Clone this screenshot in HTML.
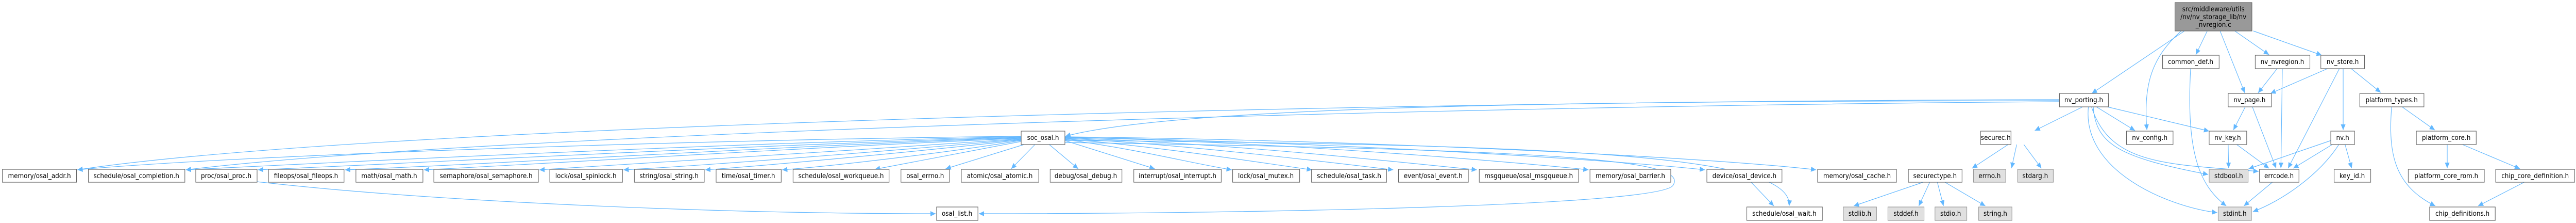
<!DOCTYPE html>
<html><head><meta charset="utf-8"><style>
html,body{margin:0;padding:0;background:#fff;width:100%;height:100%;overflow:hidden;}
svg{display:block;position:absolute;left:0;top:0;width:100vw;height:100vh;}
text{font-family:"DejaVu Sans","Liberation Sans",sans-serif;font-size:13px;fill:#000;text-anchor:middle;}
.n{fill:#fff;stroke:#666;stroke-width:1.2;}
.g{fill:#e0e0e0;stroke:#999;stroke-width:1.2;}
.r{fill:#999;stroke:#666;stroke-width:1.2;}
path.e{fill:none;stroke:#63b8ff;stroke-width:1.2;marker-end:url(#a);}
</style></head><body>
<svg viewBox="0 0 5421 432" preserveAspectRatio="none" xmlns="http://www.w3.org/2000/svg">
<defs><marker id="a" markerUnits="userSpaceOnUse" markerWidth="12" markerHeight="10" refX="11" refY="5" orient="auto"><path d="M0,0 L11,5 L0,10 z" fill="#63b8ff"/></marker></defs>

<g>
<path class="e" d="M4597,60 L4402,181"/>
<path class="e" d="M4590,60 C4530,110 4510,160 4518,252"/>
<path class="e" d="M4645,60 L4621,106"/>
<path class="e" d="M4672,60 L4724,180"/>
<path class="e" d="M4703,60 L4775,106"/>
<path class="e" d="M4742,60 L4886,107"/>
<path class="e" d="M4385,206 L4282,253"/>
<path class="e" d="M4410,206 L4493,253"/>
<path class="e" d="M4430,206 L4649,254"/>
<path class="e" d="M4405,206 C4410,280 4460,305 4647,338"/>
<path class="e" d="M4401,206 C4440,320 4560,318 4753,332"/>
<path class="e" d="M4395,206 C4380,330 4560,400 4666,412"/>
<path class="e" d="M4334,195 C3500,196 2500,200 2242,264"/>
<path class="e" d="M4334,193 C3000,195 800,240 163,329"/>
<path class="e" d="M4334,197 C3000,205 1000,260 391,329"/>
<path class="e" d="M4610,133 C4600,300 4630,360 4685,399"/>
<path class="e" d="M4792,133 L4752,180"/>
<path class="e" d="M4803,133 L4800,326"/>
<path class="e" d="M4898,133 L4778,181"/>
<path class="e" d="M4923,133 L4815,326"/>
<path class="e" d="M4931,133 L4931,252"/>
<path class="e" d="M4948,133 L5010,179"/>
<path class="e" d="M4725,207 L4700,252"/>
<path class="e" d="M4740,207 L4790,326"/>
<path class="e" d="M5055,207 L5124,252"/>
<path class="e" d="M5033,207 C5025,300 5040,360 5125,399"/>
<path class="e" d="M4689,280 L4690,326"/>
<path class="e" d="M4707,280 L4775,326"/>
<path class="e" d="M4906,272 L4732,327"/>
<path class="e" d="M4908,280 L4826,326"/>
<path class="e" d="M4935,280 L4949,326"/>
<path class="e" d="M4922,280 C4880,340 4800,390 4741,410"/>
<path class="e" d="M5150,280 L5150,326"/>
<path class="e" d="M5182,280 L5303,327"/>
<path class="e" d="M5312,353 L5215,399"/>
<path class="e" d="M4782,353 L4722,399"/>
<path class="e" d="M4226,280 L4150,326"/>
<path class="e" d="M4244,280 L4233,326"/>
<path class="e" d="M4259,280 L4296,326"/>
<path class="e" d="M4047,353 L3901,399"/>
<path class="e" d="M4061,353 L4038,399"/>
<path class="e" d="M4077,353 L4090,399"/>
<path class="e" d="M4093,353 L4178,399"/>
<path class="e" d="M3685,353 L3733,399"/>
<path class="e" d="M2149,264 C1500,270 500,300 163,329"/>
<path class="e" d="M2149,265 C1600,275 800,310 391,329"/>
<path class="e" d="M2149,266 C1600,280 900,315 543,329"/>
<path class="e" d="M2149,267 C1700,280 1000,320 726,329"/>
<path class="e" d="M2149,268 C1700,285 1100,320 892,329"/>
<path class="e" d="M2149,269 C1800,290 1300,322 1135,329"/>
<path class="e" d="M2149,270 C1900,290 1500,320 1312,329"/>
<path class="e" d="M2149,271 C1950,292 1600,322 1484,329"/>
<path class="e" d="M2149,272 C2000,295 1750,322 1646,329"/>
<path class="e" d="M2149,274 L1841,328"/>
<path class="e" d="M2155,280 L1990,327"/>
<path class="e" d="M2178,280 L2128,327"/>
<path class="e" d="M2208,280 L2269,327"/>
<path class="e" d="M2240,272 L2430,327"/>
<path class="e" d="M2240,270 C2400,290 2500,315 2592,329"/>
<path class="e" d="M2240,269 C2450,285 2650,315 2761,329"/>
<path class="e" d="M2240,268 C2500,280 2800,315 2932,329"/>
<path class="e" d="M2240,267 C2600,278 2950,315 3108,329"/>
<path class="e" d="M2240,266 C2700,275 3200,315 3343,329"/>
<path class="e" d="M2240,266 C2800,275 3400,310 3588,329"/>
<path class="e" d="M2240,265 C2900,272 3600,305 3822,329"/>
<path class="e" d="M2240,272 C3300,280 3775,300 3765,399"/>
<path class="e" d="M2240,276 C3300,290 3560,310 3520,360 C3480,400 2600,414 2060,414"/>
<path class="e" d="M541,352 C900,390 1500,414 1969,414"/>
</g>

<g>
<rect class="r" x="4577" y="5" width="162" height="55"/>
<text x="4658" y="22">src/middleware/utils</text>
<text x="4658" y="37">/nv/nv_storage_lib/nv</text>
<text x="4658" y="52">_nvregion.c</text>

<rect class="n" x="4551" y="107" width="119" height="26"/><text x="4610" y="124">common_def.h</text>
<rect class="n" x="4746" y="107" width="115" height="26"/><text x="4803" y="124">nv_nvregion.h</text>
<rect class="n" x="4884" y="107" width="92" height="26"/><text x="4930" y="124">nv_store.h</text>

<rect class="n" x="4334" y="181" width="103" height="26"/><text x="4385" y="198">nv_porting.h</text>
<rect class="n" x="4689" y="181" width="91" height="26"/><text x="4734" y="198">nv_page.h</text>
<rect class="n" x="4966" y="181" width="135" height="26"/><text x="5033" y="198">platform_types.h</text>

<rect class="n" x="2149" y="254" width="92" height="26"/><text x="2195" y="271">soc_osal.h</text>
<rect class="n" x="4168" y="254" width="64" height="26"/><text x="4200" y="271">securec.h</text>
<rect class="n" x="4475" y="254" width="98" height="26"/><text x="4524" y="271">nv_config.h</text>
<rect class="n" x="4649" y="254" width="79" height="26"/><text x="4688" y="271">nv_key.h</text>
<rect class="n" x="4905" y="254" width="50" height="26"/><text x="4930" y="271">nv.h</text>
<rect class="n" x="5085" y="254" width="126" height="26"/><text x="5148" y="271">platform_core.h</text>

<rect class="n" x="5" y="328" width="156" height="25"/><text x="83" y="345">memory/osal_addr.h</text>
<rect class="n" x="186" y="328" width="203" height="25"/><text x="287" y="345">schedule/osal_completion.h</text>
<rect class="n" x="412" y="328" width="129" height="25"/><text x="476" y="345">proc/osal_proc.h</text>
<rect class="n" x="565" y="328" width="159" height="25"/><text x="644" y="345">fileops/osal_fileops.h</text>
<rect class="n" x="749" y="328" width="141" height="25"/><text x="819" y="345">math/osal_math.h</text>
<rect class="n" x="913" y="328" width="220" height="25"/><text x="1023" y="345">semaphore/osal_semaphore.h</text>
<rect class="n" x="1157" y="328" width="153" height="25"/><text x="1233" y="345">lock/osal_spinlock.h</text>
<rect class="n" x="1335" y="328" width="147" height="25"/><text x="1408" y="345">string/osal_string.h</text>
<rect class="n" x="1507" y="328" width="137" height="25"/><text x="1575" y="345">time/osal_timer.h</text>
<rect class="n" x="1669" y="328" width="202" height="25"/><text x="1770" y="345">schedule/osal_workqueue.h</text>
<rect class="n" x="1896" y="328" width="102" height="25"/><text x="1947" y="345">osal_errno.h</text>
<rect class="n" x="2023" y="328" width="163" height="25"/><text x="2104" y="345">atomic/osal_atomic.h</text>
<rect class="n" x="2210" y="328" width="151" height="25"/><text x="2285" y="345">debug/osal_debug.h</text>
<rect class="n" x="2386" y="328" width="184" height="25"/><text x="2478" y="345">interrupt/osal_interrupt.h</text>
<rect class="n" x="2594" y="328" width="141" height="25"/><text x="2664" y="345">lock/osal_mutex.h</text>
<rect class="n" x="2760" y="328" width="158" height="25"/><text x="2839" y="345">schedule/osal_task.h</text>
<rect class="n" x="2943" y="328" width="147" height="25"/><text x="3016" y="345">event/osal_event.h</text>
<rect class="n" x="3113" y="328" width="209" height="25"/><text x="3217" y="345">msgqueue/osal_msgqueue.h</text>
<rect class="n" x="3346" y="328" width="170" height="25"/><text x="3431" y="345">memory/osal_barrier.h</text>
<rect class="n" x="3592" y="328" width="158" height="25"/><text x="3671" y="345">device/osal_device.h</text>
<rect class="n" x="3825" y="328" width="166" height="25"/><text x="3908" y="345">memory/osal_cache.h</text>
<rect class="n" x="4016" y="328" width="113" height="25"/><text x="4072" y="345">securectype.h</text>
<rect class="g" x="4153" y="328" width="68" height="25"/><text x="4187" y="345">errno.h</text>
<rect class="g" x="4246" y="328" width="75" height="25"/><text x="4283" y="345">stdarg.h</text>
<rect class="g" x="4649" y="328" width="82" height="25"/><text x="4690" y="345">stdbool.h</text>
<rect class="n" x="4755" y="328" width="83" height="25"/><text x="4796" y="345">errcode.h</text>
<rect class="n" x="4912" y="328" width="77" height="25"/><text x="4950" y="345">key_id.h</text>
<rect class="n" x="5068" y="328" width="160" height="25"/><text x="5148" y="345">platform_core_rom.h</text>
<rect class="n" x="5252" y="328" width="166" height="25"/><text x="5335" y="345">chip_core_definition.h</text>

<rect class="n" x="1971" y="401" width="87" height="26"/><text x="2014" y="418">osal_list.h</text>
<rect class="n" x="3676" y="401" width="159" height="26"/><text x="3755" y="418">schedule/osal_wait.h</text>
<rect class="g" x="3879" y="401" width="70" height="26"/><text x="3914" y="418">stdlib.h</text>
<rect class="g" x="3973" y="401" width="76" height="26"/><text x="4011" y="418">stddef.h</text>
<rect class="g" x="4072" y="401" width="67" height="26"/><text x="4105" y="418">stdio.h</text>
<rect class="g" x="4164" y="401" width="70" height="26"/><text x="4199" y="418">string.h</text>
<rect class="g" x="4668" y="401" width="70" height="26"/><text x="4703" y="418">stdint.h</text>
<rect class="n" x="5113" y="401" width="138" height="26"/><text x="5182" y="418">chip_definitions.h</text>
</g>
</svg>
</body></html>
